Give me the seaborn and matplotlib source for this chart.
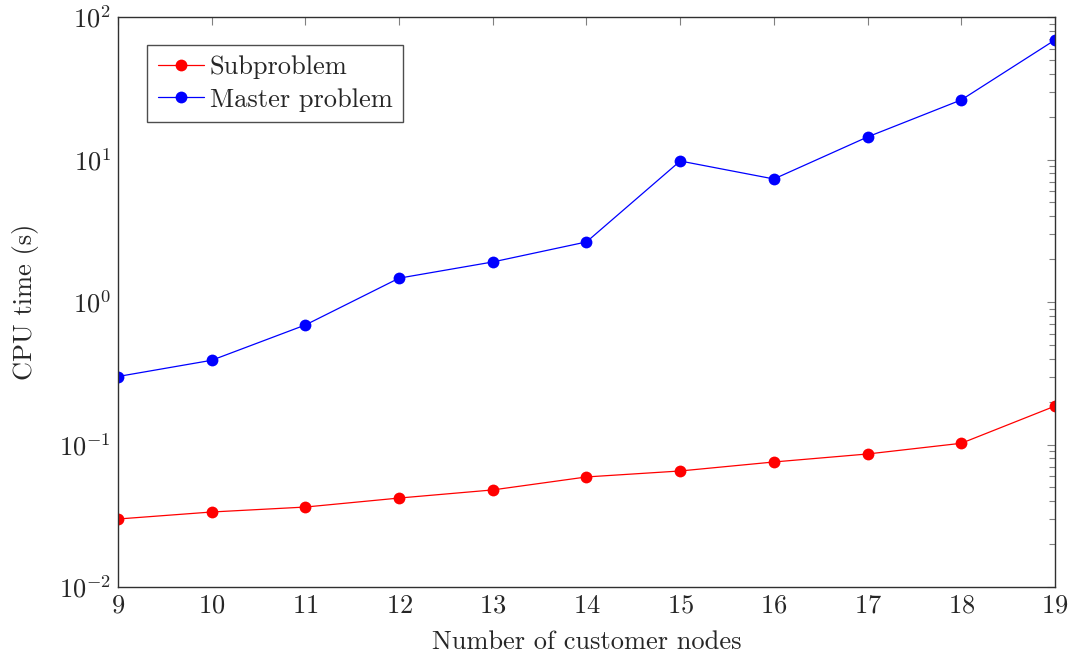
import numpy as np
import pandas as pd
import matplotlib
matplotlib.use("Agg")
import matplotlib.pyplot as plt
import matplotlib.ticker as mticker
import seaborn as sns

# CPU time per problem size
nodes = [9, 10, 11, 12, 13, 14, 15, 16, 17, 18, 19]
subproblem = [0.030, 0.0336, 0.0364, 0.0421, 0.048, 0.0592, 0.0652, 0.0754, 0.0858, 0.102, 0.186]
master = [0.30, 0.39, 0.69, 1.47, 1.91, 2.64, 9.76, 7.3, 14.4, 26.2, 69.0]
series_names = ["Subproblem", "Master problem"]

df = pd.concat([
    pd.DataFrame({"nodes": nodes, "time": subproblem, "series": series_names[0]}),
    pd.DataFrame({"nodes": nodes, "time": master, "series": series_names[1]}),
])

sns.set_theme(style="white")
plt.rcParams["font.family"] = ["cmr10", "DejaVu Serif"]
plt.rcParams["mathtext.fontset"] = "cm"
plt.rcParams["axes.formatter.use_mathtext"] = True
plt.rcParams["axes.unicode_minus"] = False

fig = plt.figure(figsize=(10.75, 6.55), dpi=100)
ax = fig.add_axes([118 / 1075, 1 - 587 / 655, 937 / 1075, 570 / 655])

sns.lineplot(data=df, x="nodes", y="time", hue="series",
             palette={"Subproblem": "#ff0000", "Master problem": "#0000ff"},
             marker="o", markersize=8.5, markeredgewidth=0, linewidth=0.9,
             ax=ax)

ax.set_yscale("log")
ax.set_ylim(1e-2, 1e2)
ax.set_xlim(9, 19)
ax.set_xticks(nodes)
ax.xaxis.set_major_formatter(mticker.FuncFormatter(lambda v, p: f"${int(v)}$"))
ax.yaxis.set_major_locator(mticker.LogLocator(base=10, numticks=10))
ax.yaxis.set_minor_locator(mticker.LogLocator(base=10, subs=np.arange(2, 10), numticks=100))
ax.yaxis.set_minor_formatter(mticker.NullFormatter())
ax.yaxis.set_major_formatter(mticker.FuncFormatter(
    lambda v, p: r"$10^{%d}$" % int(round(np.log10(v)))))

ax.tick_params(axis="both", which="both", direction="in", top=True, right=True,
               color="#808080", width=0.8, labelsize=19, pad=5)
ax.tick_params(axis="both", which="major", length=6)
ax.tick_params(axis="y", which="minor", length=4)
ax.tick_params(axis="x", which="minor", length=0)
for s in ax.spines.values():
    s.set_color("#303030")
    s.set_linewidth(1.0)

ax.set_xlabel("Number of customer nodes", fontsize=19, labelpad=9)
ax.set_ylabel("CPU time (s)", fontsize=19, labelpad=14)

leg = ax.legend(loc="upper left", bbox_to_anchor=((147 - 118) / 937, (587 - 45) / 570),
                borderaxespad=0, frameon=True, fancybox=False, fontsize=19,
                handlelength=1.75, handletextpad=0.22, borderpad=0.4, labelspacing=0.33,
                title=None)
leg.get_frame().set_edgecolor("#202020")
leg.get_frame().set_linewidth(1.0)

fig.savefig("out.png", dpi=100)
